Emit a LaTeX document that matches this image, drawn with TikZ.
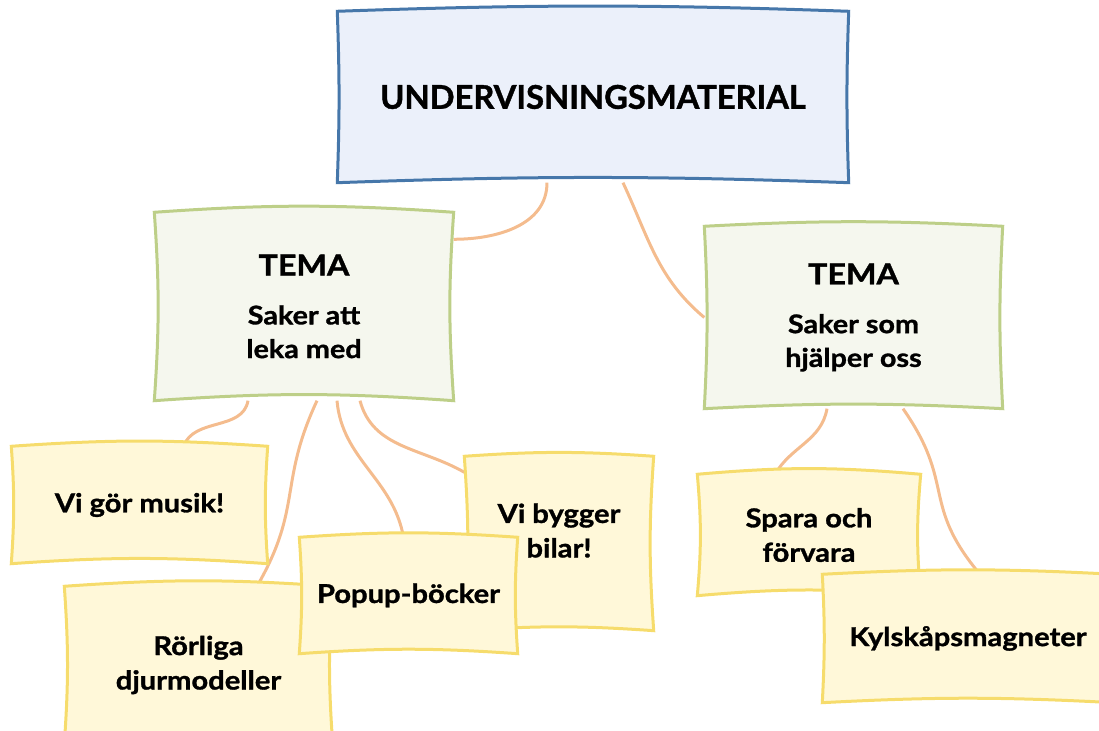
\documentclass[tikz,border=0pt]{standalone}
\usepackage{fontspec}
\setmainfont[FakeStretch=1.12,BoldFeatures={FakeBold=1.2}]{Lato}
\newfontfamily\rotfont[BoldFeatures={FakeBold=1.2}]{Lato}
\usepackage{tikz}
\usetikzlibrary{backgrounds}

\definecolor{rotkant}{HTML}{4677AA}
\definecolor{rotfyll}{HTML}{EBF0FA}
\definecolor{temakant}{HTML}{BDCF88}
\definecolor{temafyll}{HTML}{F5F7EE}
\definecolor{lappkant}{HTML}{F6DC6C}
\definecolor{lappfyll}{HTML}{FFF8D9}
\definecolor{grenfarg}{HTML}{F4BC8E}

\begin{document}
\begin{tikzpicture}[
    box/.style={align=center,inner sep=0pt},
    rot/.style={box,font=\rotfont\fontsize{9.3}{11}\selectfont\bfseries},
    tema/.style={box,font=\fontsize{7.3}{9.6}\selectfont\bfseries},
    lapp/.style={box,font=\fontsize{7.4}{9.8}\selectfont\bfseries},
    rotram/.style={draw=rotkant,fill=rotfyll,line width=0.03cm},
    temaram/.style={draw=temakant,fill=temafyll,line width=0.03cm},
    lappram/.style={draw=lappkant,fill=lappfyll,line width=0.03cm},
    gren/.style={draw=grenfarg,line width=0.03cm}]
    \useasboundingbox (0,0) rectangle (10.99,7.31);
    \clip (0,0) rectangle (10.99,7.31);

    \node[rot,minimum width=5.1cm,minimum height=1.7cm] (rot) at (5.93,6.34) {UNDERVISNINGSMATERIAL};

    \node[tema,minimum width=2.98cm,minimum height=1.87cm] (lek) at (3.04,4.245)
      {{\fontsize{8.2}{9.6}\selectfont TEMA}\\[4.3pt]Saker att\\leka med};
    \node[tema,minimum width=2.97cm,minimum height=1.81cm] (hjalp) at (8.535,4.135)
      {{\fontsize{8.2}{9.6}\selectfont TEMA}\\[4.3pt]Saker som\\hjälper oss};

    \node[lapp,minimum width=2.55cm,minimum height=1.16cm] (musik) at (1.395,2.26) {Vi gör musik!};
    \node[lapp,minimum width=2.67cm,minimum height=1.56cm] (djur) at (1.985,0.66) {Rörliga\\djurmodeller};
    \node[lapp,minimum width=1.88cm,minimum height=1.73cm] (bilar) at (5.59,1.875) {Vi bygger\\bilar!\\[-2.4pt]};
    \node[lapp,minimum width=2.17cm,minimum height=1.15cm] (popup) at (4.085,1.355) {Popup-böcker};
    \node[lapp,minimum width=2.22cm,minimum height=1.2cm] (spara) at (8.09,1.96) {Spara och\\förvara};
    \node[lapp,minimum width=2.9cm,minimum height=1.27cm] (kyl) at (9.68,0.925) {Kylskåpsmagneter};

    \begin{scope}[on background layer]
      % grenar
      \draw[gren] ([xshift=-0.46cm]rot.south) to[out=-90,in=0] ([yshift=-0.27cm]lek.north east);
      \draw[gren] ([xshift=0.30cm]rot.south) to[out=-65,in=140] (hjalp.west);
      \draw[gren] ([xshift=-0.56cm]lek.south) to[out=-100,in=70] ([xshift=0.44cm]musik.north);
      \draw[gren] ([xshift=0.13cm]lek.south) to[out=-115,in=60,looseness=1.2] ([xshift=0.585cm]djur.north);
      \draw[gren] ([xshift=0.33cm]lek.south) to[out=-85,in=100] ([xshift=-0.05cm]popup.north);
      \draw[gren] ([xshift=0.56cm]lek.south) to[out=-75,in=150] ([yshift=-0.16cm]bilar.north west);
      \draw[gren] ([xshift=-0.265cm]hjalp.south) to[out=-100,in=60] ([xshift=-0.34cm]spara.north);
      \draw[gren] ([xshift=0.495cm]hjalp.south) to[out=-55,in=130,looseness=1.3] ([xshift=0.12cm]kyl.north);
      % ramar, i ritordning
      \foreach \n/\ram/\b in {rot/rotram/2,lek/temaram/4,hjalp/temaram/3,musik/lappram/4,djur/lappram/4,
                              bilar/lappram/4,popup/lappram/4,spara/lappram/5,kyl/lappram/3}
        \draw[\ram] (\n.south west) to[bend left=\b] (\n.south east) to[bend left=\b] (\n.north east)
          to[bend right=\b] (\n.north west) to[bend left=\b] (\n.south west) -- cycle;
    \end{scope}
\end{tikzpicture}
\end{document}
